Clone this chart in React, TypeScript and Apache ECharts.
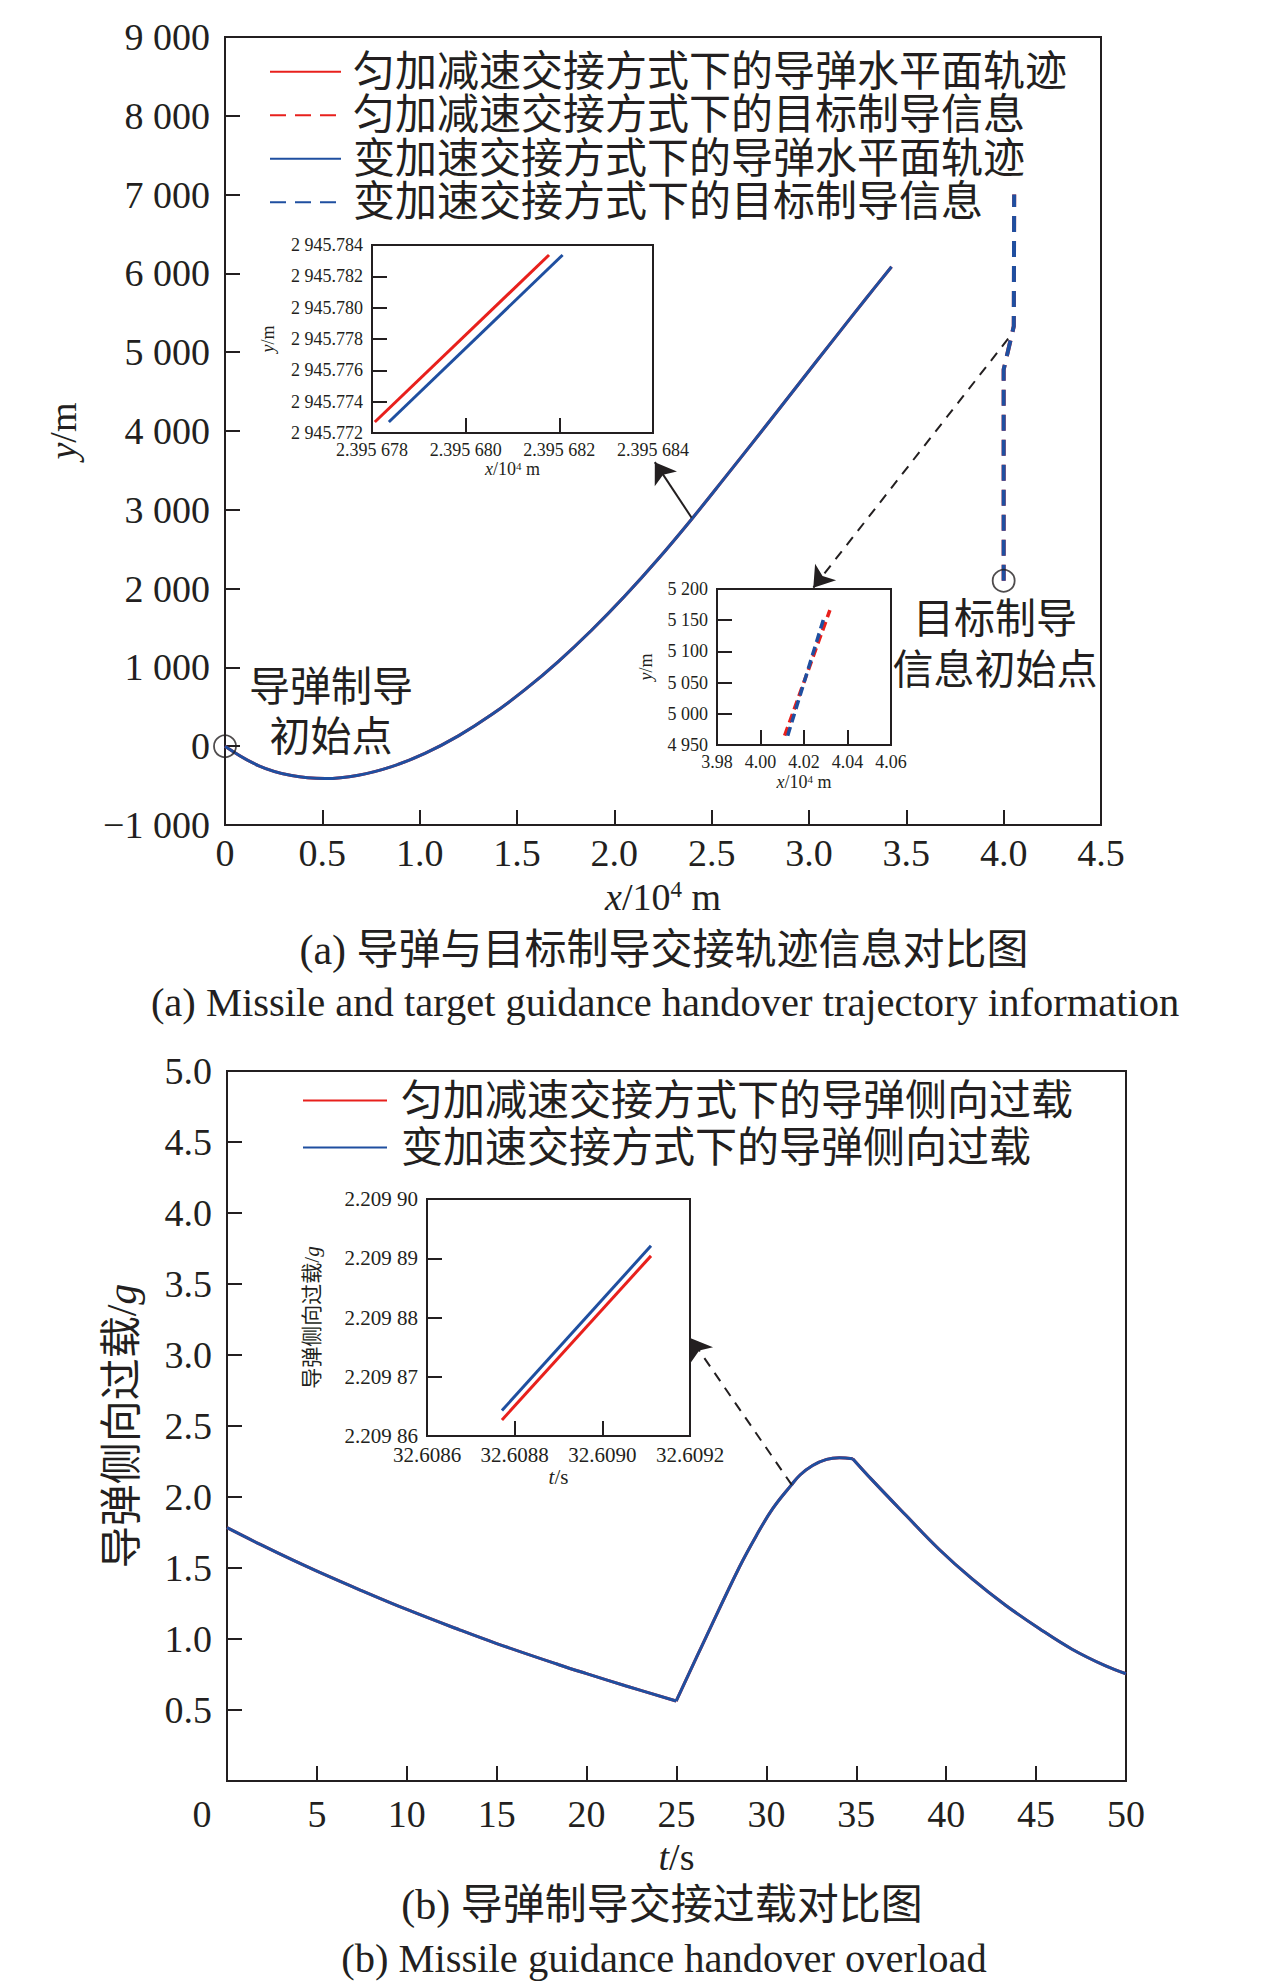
import React, { useEffect, useRef } from 'react';
import * as echarts from 'echarts';

const INK = '#231f20';
const RED = '#e8201c';
const BLUE = '#1f4fa0';
const SERIF = '"Liberation Serif", "Noto Sans CJK SC", serif';

// ---------- (a) trajectory ----------
const namesA = [
  '匀加减速交接方式下的导弹水平面轨迹',
  '匀加减速交接方式下的目标制导信息',
  '变加速交接方式下的导弹水平面轨迹',
  '变加速交接方式下的目标制导信息',
];
const trajX = [0, 0.171, 0.342, 0.514, 0.685, 0.856, 1.027, 1.199, 1.37, 1.541, 1.712, 1.883, 2.054, 2.225, 2.397, 2.568, 2.782, 2.953, 3.124, 3.296, 3.424];
const trajY = [0, -245, -373, -411, -368, -259, -91, 131, 401, 717, 1074, 1471, 1905, 2375, 2881, 3408, 4076, 4615, 5154, 5691, 6085];
const targetX = [4.0, 4.0, 4.052, 4.054];
const targetY = [2100, 4780, 5330, 7000];
const startPointsA = [[0, 0], [4.0, 2100]];
const arrowA1 = [[2.397, 2900], [2.208, 3605]];
const arrowA2 = [[4.023, 5171], [3.022, 2011]];

// inset 1 (zoom on missile trajectory)
const in1RedX = [2.39567806, 2.39568178];
const in1RedY = [2945.7727, 2945.78336];
const in1BlueX = [2.39567836, 2.39568207];
const in1BlueY = [2945.7727, 2945.78336];

// inset 2 (zoom on target guidance info)
const in2RedX = [4.0111, 4.0319];
const in2RedY = [4965, 5166];
const in2BlueX = [4.0125, 4.0291];
const in2BlueY = [4965, 5153];

// ---------- (b) overload ----------
const namesB = ['匀加减速交接方式下的导弹侧向过载', '变加速交接方式下的导弹侧向过载'];
// phase 1: before handover (0 - 25 s)
const loadT1 = [0, 1.85, 3.7, 5.0, 7.41, 10, 12.96, 15, 18.5, 20, 22.2, 24.98];
const loadY1 = [1.784, 1.666, 1.553, 1.478, 1.345, 1.208, 1.063, 0.968, 0.817, 0.756, 0.669, 0.563];
// phase 2: handover rise (25 - 34.8 s)
const loadT2 = [24.98, 26.65, 28.5, 29.46, 30.35, 31.37, 31.87, 32.57, 33.35, 34.06, 34.8];
const loadY2 = [0.563, 1.015, 1.507, 1.732, 1.918, 2.082, 2.155, 2.222, 2.265, 2.276, 2.27];
// phase 3: after peak (34.8 - 50 s)
const loadT3 = [34.8, 35.9, 37.76, 39.6, 41.46, 43.3, 45.17, 47.0, 48.87, 50];
const loadY3 = [2.27, 2.117, 1.871, 1.632, 1.421, 1.238, 1.074, 0.928, 0.81, 0.755];
const inBRedT = [32.608771, 32.609111];
const inBRedY = [2.2098627, 2.2098904];
const inBBlueT = [32.608771, 32.609111];
const inBBlueY = [2.2098643, 2.2098921];
const arrowB = [[31.41, 2.085], [25.79, 3.118]];

const zip = (xs: number[], ys: number[]) => xs.map((x, i) => [x, ys[i]]);
const groupInt = (s: string) => s.replace(/\B(?=(\d{3})+(?!\d))/g, ' ');
const fmtThousands = (v: number, dec: number) => {
  const a = Math.abs(v).toFixed(dec).split('.');
  return (v < 0 ? '\u2212' : '') + groupInt(a[0]) + (a[1] ? '.' + a[1] : '');
};
const fmtFrac = (v: number, dec: number) => {
  const a = v.toFixed(dec).split('.');
  return a[0] + '.' + a[1].replace(/(\d{3})(?=\d)/g, '$1 ');
};

function nameRich(fs: number) {
  return {
    i: { fontStyle: 'italic', fontSize: fs, fontFamily: SERIF, color: INK },
    s: { fontSize: Math.round(fs * 0.6), fontFamily: SERIF, color: INK, verticalAlign: 'top' },
  };
}

function axis(o: any) {
  return {
    type: 'value',
    gridIndex: o.grid,
    min: o.min,
    max: o.max,
    interval: o.step,
    axisLine: { show: false, onZero: false },
    axisTick: { show: true, inside: true, length: 15, lineStyle: { color: INK, width: 2 } },
    splitLine: { show: false },
    axisLabel: {
      color: INK,
      fontFamily: SERIF,
      fontSize: o.fs,
      margin: o.margin,
      formatter: o.fmt,
      rich: o.rich,
    },
    name: o.name,
    nameLocation: 'middle',
    nameGap: o.gap,
    nameRotate: o.rotate,
    nameTextStyle: { color: INK, fontFamily: SERIF, fontSize: o.nfs, rich: nameRich(o.nfs) },
  };
}

function gridBox(left: number, top: number, width: number, height: number) {
  return { left, top, width, height, show: true, borderColor: INK, borderWidth: 2, backgroundColor: 'transparent' };
}

function lineSeries(name: string, color: string, data: number[][], xi: number, dash: any, width: number, extra: any = {}) {
  return {
    type: 'line',
    name,
    xAxisIndex: xi,
    yAxisIndex: xi,
    data,
    symbol: 'none',
    showSymbol: false,
    silent: true,
    lineStyle: { color, width, type: dash },
    itemStyle: { color },
    ...extra,
  };
}

function arrowMark(pts: number[][], dashed: boolean) {
  return {
    silent: true,
    symbol: ['none', 'arrow'],
    symbolSize: 20,
    label: { show: false },
    emphasis: { disabled: true },
    lineStyle: { color: INK, width: 2, type: dashed ? [10, 8] : 'solid', opacity: 1 },
    itemStyle: { color: INK },
    data: [[{ coord: pts[0] }, { coord: pts[1] }]],
  };
}

function buildOption() {
  const textEl = (x: number, y: number, text: string, fs: number, lh?: number) => ({
    type: 'text',
    x,
    y,
    silent: true,
    style: {
      text,
      fill: INK,
      fontSize: fs,
      fontFamily: SERIF,
      align: 'center',
      verticalAlign: 'middle',
      lineHeight: lh || fs * 1.2,
    },
  });

  const legendBase = {
    orient: 'vertical',
    padding: 0,
    itemGap: 0,
    itemHeight: 14,
    selectedMode: false,
    itemStyle: { opacity: 0 },
  };

  return {
    animation: false,
    backgroundColor: '#ffffff',
    grid: [
      gridBox(225, 37, 876, 788),
      gridBox(372, 245, 281, 188),
      gridBox(717, 589, 174, 156),
      gridBox(227, 1071, 899, 710),
      gridBox(427, 1199, 263, 237),
    ],
    xAxis: [
      axis({ grid: 0, min: 0, max: 4.5, step: 0.5, fs: 38, margin: 9, fmt: (v: number) => (v === 0 ? '0' : v.toFixed(1)), name: '{i|x}/10{s|4} m', gap: 53, nfs: 38 }),
      axis({ grid: 1, min: 2.395678, max: 2.395684, step: 0.000002, fs: 18, margin: 8, fmt: (v: number) => fmtFrac(v, 6), name: '{i|x}/10{s|4} m', gap: 27, nfs: 18 }),
      axis({ grid: 2, min: 3.98, max: 4.06, step: 0.02, fs: 18, margin: 8, fmt: (v: number) => v.toFixed(2), name: '{i|x}/10{s|4} m', gap: 28, nfs: 18 }),
      axis({
        grid: 3, min: 0, max: 50, step: 5, fs: 38, margin: 14,
        fmt: (v: number) => (v === 0 ? '{z|0}' : String(v)),
        rich: { z: { fontSize: 38, fontFamily: SERIF, color: INK, padding: [0, 50, 0, 0] } },
        name: '{i|t}/s', gap: 57, nfs: 38,
      }),
      axis({ grid: 4, min: 32.6086, max: 32.6092, step: 0.0002, fs: 21, margin: 8, fmt: (v: number) => v.toFixed(4), name: '{i|t}/s', gap: 30, nfs: 21 }),
    ],
    yAxis: [
      axis({ grid: 0, min: -1000, max: 9000, step: 1000, fs: 38, margin: 15, fmt: (v: number) => fmtThousands(v, 0), name: '{i|y}/m', gap: 143, nfs: 38, rotate: 90 }),
      axis({ grid: 1, min: 2945.772, max: 2945.784, step: 0.002, fs: 18, margin: 9, fmt: (v: number) => fmtThousands(v, 3), name: '{i|y}/m', gap: 95, nfs: 18, rotate: 90 }),
      axis({ grid: 2, min: 4950, max: 5200, step: 50, fs: 18, margin: 9, fmt: (v: number) => fmtThousands(v, 0), name: '{i|y}/m', gap: 62, nfs: 18, rotate: 90 }),
      axis({ grid: 3, min: 0, max: 5, step: 0.5, fs: 38, margin: 15, fmt: (v: number) => (v === 0 ? '' : v.toFixed(1)), name: '导弹侧向过载/{i|g}', gap: 84, nfs: 42, rotate: 90 }),
      axis({ grid: 4, min: 2.20986, max: 2.2099, step: 0.00001, fs: 21, margin: 9, fmt: (v: number) => fmtFrac(v, 5), name: '导弹侧向过载/{i|g}', gap: 105, nfs: 21, rotate: 90 }),
    ],
    legend: [
      {
        ...legendBase,
        data: namesA,
        left: 269,
        top: 50,
        itemWidth: 71,
        textStyle: { fontFamily: SERIF, fontSize: 42, color: INK, lineHeight: 43.5, padding: [0, 0, 0, 7] },
      },
      {
        ...legendBase,
        data: namesB,
        left: 302,
        top: 1077,
        itemWidth: 84,
        textStyle: { fontFamily: SERIF, fontSize: 42, color: INK, lineHeight: 47, padding: [0, 0, 0, 9] },
      },
    ],
    series: [
      // (a) main
      lineSeries(namesA[0], RED, zip(trajX, trajY), 0, 'solid', 3, { smooth: 0.4 }),
      lineSeries(namesA[1], RED, zip(targetX, targetY), 0, [16, 9], 4),
      lineSeries(namesA[2], BLUE, zip(trajX, trajY), 0, 'solid', 3, { smooth: 0.4, markLine: arrowMark(arrowA1, false) }),
      lineSeries(namesA[3], BLUE, zip(targetX, targetY), 0, [16, 9], 4, { markLine: arrowMark(arrowA2, true) }),
      {
        type: 'scatter',
        xAxisIndex: 0,
        yAxisIndex: 0,
        data: startPointsA,
        symbol: 'circle',
        symbolSize: 22,
        silent: true,
        z: 5,
        itemStyle: { color: 'rgba(0,0,0,0)', borderColor: INK, borderWidth: 1.8 },
      },
      // (a) inset 1
      lineSeries(namesA[0], RED, zip(in1RedX, in1RedY), 1, 'solid', 3),
      lineSeries(namesA[2], BLUE, zip(in1BlueX, in1BlueY), 1, 'solid', 3),
      // (a) inset 2
      lineSeries(namesA[1], RED, zip(in2RedX, in2RedY), 2, [9, 5], 3.5),
      lineSeries(namesA[3], BLUE, zip(in2BlueX, in2BlueY), 2, [9, 5], 3.5),
      // (b) main, red (hidden under blue)
      lineSeries(namesB[0], RED, zip(loadT1, loadY1), 3, 'solid', 3, { smooth: 0.4 }),
      lineSeries(namesB[0], RED, zip(loadT2, loadY2), 3, 'solid', 3, { smooth: 0.4 }),
      lineSeries(namesB[0], RED, zip(loadT3, loadY3), 3, 'solid', 3, { smooth: 0.4 }),
      // (b) main, blue
      lineSeries(namesB[1], BLUE, zip(loadT1, loadY1), 3, 'solid', 3, { smooth: 0.4 }),
      lineSeries(namesB[1], BLUE, zip(loadT2, loadY2), 3, 'solid', 3, { smooth: 0.4, markLine: arrowMark(arrowB, true) }),
      lineSeries(namesB[1], BLUE, zip(loadT3, loadY3), 3, 'solid', 3, { smooth: 0.4 }),
      // (b) inset
      lineSeries(namesB[0], RED, zip(inBRedT, inBRedY), 4, 'solid', 3),
      lineSeries(namesB[1], BLUE, zip(inBBlueT, inBBlueY), 4, 'solid', 3),
    ],
    graphic: [
      textEl(331, 712, '导弹制导\n初始点', 41, 50),
      textEl(995, 644, '目标制导\n信息初始点', 41, 51),
      textEl(664, 950, '(a) 导弹与目标制导交接轨迹信息对比图', 42),
      textEl(665, 1002, '(a) Missile and target guidance handover trajectory information', 40.5),
      textEl(662, 1905, '(b) 导弹制导交接过载对比图', 42),
      textEl(664, 1958, '(b) Missile guidance handover overload', 40.5),
    ],
  };
}

export default function App() {
  const ref = useRef<HTMLDivElement>(null);
  useEffect(() => {
    if (!ref.current) return;
    const chart = echarts.init(ref.current, null, { renderer: 'svg', width: 1276, height: 1983 });
    chart.setOption(buildOption() as any);
    return () => chart.dispose();
  }, []);
  return (
    <div
      ref={ref}
      style={{ position: 'absolute', left: 0, top: 0, width: 1276, height: 1983, background: '#fff' }}
    />
  );
}
